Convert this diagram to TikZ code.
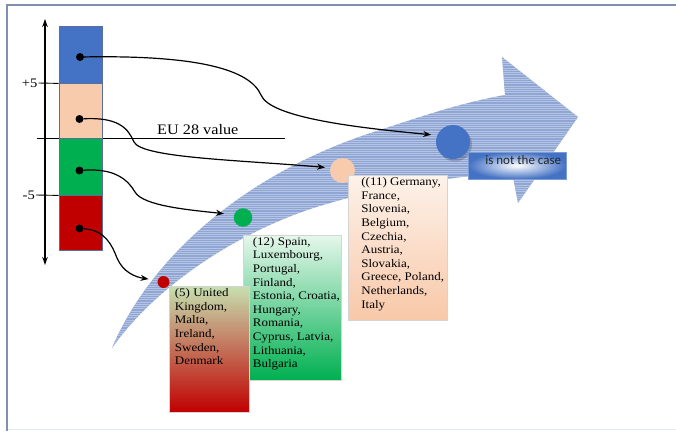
\documentclass[tikz,border=0pt]{standalone}
\usepackage{fontspec}
\setmainfont[FakeStretch=1.12]{Liberation Serif}
\newfontfamily\calibri{Carlito}
\usetikzlibrary{arrows.meta,calc}
\definecolor{cblueC}{HTML}{4472C4}
\definecolor{cpeachC}{HTML}{F8CBAD}
\definecolor{cgreenC}{HTML}{00B050}
\definecolor{credC}{HTML}{C00000}
\definecolor{frameC}{HTML}{7F90B0}
\definecolor{bandC}{HTML}{8FA5D3}
\definecolor{stripeC}{HTML}{B6C4E4}
\definecolor{rectborder}{HTML}{5A6E9C}
\definecolor{boxborder}{HTML}{D4D4D4}
\definecolor{bottomline}{HTML}{E4EAF2}
\definecolor{peachtop}{HTML}{FDF2EA}
\definecolor{peachbot}{HTML}{F8C8A8}
\definecolor{mintop}{HTML}{E6F7EC}
\definecolor{olivetop}{HTML}{C6E0B0}
\definecolor{darktext}{HTML}{262626}
\begin{document}
\begin{tikzpicture}[x=1pt,y=-1pt,
  colrect/.style={draw=rectborder, line width=0.8pt, minimum width=43pt, inner sep=0pt},
  dot/.style={circle, fill=black, minimum size=8pt, inner sep=0pt},
  conn/.style={line width=1.2pt, -{Stealth[length=8pt,width=6pt,inset=2.5pt]}},
  bigdot/.style={circle, inner sep=0pt},
  cbox/.style={draw=boxborder, line width=0.6pt, inner sep=0pt},
  boxtext/.style={anchor=base west, inner sep=0pt, align=left},
  axlabel/.style={anchor=east, inner sep=1pt, font=\fontsize{13}{15}\selectfont},
]
\useasboundingbox (0,0) rectangle (676,431);
% frame
\coordinate (fbl) at (7,431);
\coordinate (ftl) at (7,5);
\coordinate (ftr) at (676,5);
\coordinate (bbl) at (7,429.5);
\coordinate (bbr) at (676,429.5);
\draw[color=bottomline, line width=0.8pt] (bbl) -- (bbr);
\draw[color=frameC, line width=1.1pt] (fbl) -- (ftl) -- (ftr);

% big curved arrow
\begin{scope}
  \clip (112,348) .. controls (150,258) and (245,172) .. (380,130)
        .. controls (420,117) and (460,103) .. (505,95)
        -- (502,57) -- (578,117) -- (518,203) -- (512,172)
        .. controls (440,178) and (380,188) .. (330,203)
        .. controls (250,225) and (160,280) .. (112,348) -- cycle;
  \fill[bandC] (90,40) rectangle (600,360);
  \foreach \yy in {50,52.25,...,356} {\draw[color=stripeC, line width=0.6pt] (90,\yy) -- (600,\yy);}
\end{scope}

% EU line
\coordinate (eul) at (37,138);
\coordinate (eur) at (285,138);
\draw[line width=0.9pt] (eul) -- (eur);
\node[anchor=base west, inner sep=0pt, font=\fontsize{14.5}{17}\selectfont] (eutext) at (157,134) {EU 28 value};

% axis
\coordinate (axtop) at (45,19);
\coordinate (axbot) at (45,265);
\draw[line width=1.1pt, {Stealth[length=8pt,width=5.5pt,inset=2.5pt]}-{Stealth[length=8pt,width=5.5pt,inset=2.5pt]}] (axbot) -- (axtop);

% column of coloured rectangles
\node[colrect, fill=cblueC, minimum height=57pt] (rblue) at (80.5,54.5) {};
\node[colrect, fill=cpeachC, minimum height=55pt] (rpeach) at (80.5,110.5) {};
\node[colrect, fill=cgreenC, minimum height=57pt] (rgreen) at (80.5,166.5) {};
\node[colrect, fill=credC, minimum height=55pt] (rred) at (80.5,222.5) {};

% ticks and labels
\node[axlabel] (lp5) at (38.5,83) {+5};
\node[axlabel] (lm5) at (36,195) {-5};
\draw[line width=0.9pt] (lp5.east) -- (rblue.south west);
\draw[line width=0.9pt] (lm5.east) -- (rgreen.south west);

% dots in rectangles
\node[dot] (dblue) at (80,57) {};
\node[dot] (dpeach) at (79.5,119) {};
\node[dot] (dgreen) at (79.5,170.5) {};
\node[dot] (dred) at (79.5,228.5) {};

% circles on the arrow
\fill[black, opacity=0.18] (455,144.5) circle (17);
\node[bigdot, fill=cblueC, minimum size=34pt] (cblue) at (453,142) {};
\node[bigdot, fill=cpeachC, minimum size=25pt] (cpeach) at (342.5,170.5) {};
\node[bigdot, fill=cgreenC, minimum size=18.5pt] (cgreen) at (243,217.5) {};
\node[bigdot, fill=credC, minimum size=12pt] (cred) at (163.5,282) {};

% connectors
\draw[conn, shorten >=6pt] (dblue) .. controls (200,55) and (250,70) .. (261,95)
   .. controls (270,118) and (360,128) .. (cblue.157);
\draw[conn, shorten >=5pt] (dpeach) .. controls (118,117) and (128,128) .. (134,142)
   .. controls (142,158) and (240,160) .. (cpeach.168);
\draw[conn, shorten >=10pt] (dgreen) .. controls (115,168) and (128,180) .. (135,192)
   .. controls (143,206) and (190,210) .. (cgreen.163);
\draw[conn, shorten >=9pt] (dred) .. controls (105,230) and (112,245) .. (117,258)
   .. controls (123,272) and (135,277) .. (cred.165);

% country boxes
\node[cbox, minimum width=99pt, minimum height=145pt,
      top color=peachtop, bottom color=peachbot] (b11) at (397.5,247.5) {};
\node[boxtext] (t11) at ($(b11.north west)+(13.5,11)$) {\parbox[t]{90pt}{\raggedright\fontsize{11.6}{13.6}\selectfont
((11) Germany,\\France,\\Slovenia,\\Belgium,\\Czechia,\\Austria,\\Slovakia,\\Greece, Poland,\\Netherlands,\\Italy}};

\node[cbox, minimum width=98pt, minimum height=145pt, shading angle=-30,
      top color=mintop, bottom color=cgreenC] (b12) at (292,307.5) {};
\node[boxtext] (t12) at ($(b12.north west)+(10,10.5)$) {\parbox[t]{92pt}{\raggedright\fontsize{11.6}{13.6}\selectfont
(12) Spain,\\Luxembourg,\\Portugal,\\Finland,\\Estonia, Croatia,\\Hungary,\\Romania,\\Cyprus, Latvia,\\Lithuania,\\Bulgaria}};

\node[cbox, minimum width=80pt, minimum height=126pt, shading angle=55,
      top color=olivetop, bottom color=credC] (b5) at (209,349) {};
\node[boxtext] (t5) at ($(b5.north west)+(6,11)$) {\parbox[t]{76pt}{\raggedright\fontsize{11.6}{13.6}\selectfont
(5) United\\Kingdom,\\Malta,\\Ireland,\\Sweden,\\Denmark}};

% "is not the case" box
\node[cbox, draw=cblueC!70, minimum width=98pt, minimum height=27pt,
      inner color=white, outer color=cblueC] (bnot) at (517,165.5) {};
\node[anchor=base east, inner sep=0pt, font=\calibri\fontsize{13}{15}\selectfont, text=darktext] (tnot) at ($(bnot.south east)+(-5,-14.5)$) {is not the case};
\end{tikzpicture}
\end{document}
